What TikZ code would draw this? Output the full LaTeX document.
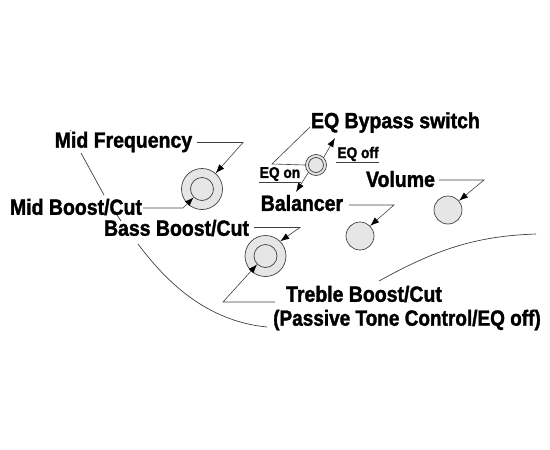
\documentclass[tikz,border=0pt]{standalone}
\usepackage{fontspec}
\setmainfont{Liberation Sans}
\newfontfamily\condbold[FakeStretch=0.885,FakeBold=1.6]{Liberation Sans Bold}
\usetikzlibrary{arrows.meta}
\definecolor{knobfill}{HTML}{E6E6E6}
\definecolor{wire}{HTML}{404040}
\tikzset{
  big/.style={font=\condbold\fontsize{22}{24}\selectfont,inner sep=0pt,text=black},
  small/.style={font=\condbold\fontsize{15.5}{17}\selectfont,inner sep=0pt,text=black},
  knob/.style={circle,draw=wire,line width=0.7pt,fill=knobfill,inner sep=0pt,minimum size=#1},
  inner/.style={circle,draw=wire,line width=0.7pt,fill=knobfill,inner sep=0pt,minimum size=#1},
  leader/.style={draw=wire,line width=0.6pt},
  pointer/.style={leader,-{Latex[length=9pt,width=6.5pt,black]}},
  body/.style={draw=wire,line width=0.7pt}
}
\begin{document}
\begin{tikzpicture}[x=1pt,y=-1pt]
\useasboundingbox (0,0) rectangle (550,450);
% body outline
\draw[body] (70,130) -- (71,131);
\draw[body] (81,153) -- (104,195);
\draw[body] (117,215) -- (121,221);
\draw[body] (138,244) .. controls (165,280) and (205,321) .. (267,327);
\draw[body] (379,281) .. controls (435,250) and (475,236) .. (536,234);
% knobs
\node[knob=41pt] (midO) at (202,189) {};
\node[inner=23pt] (midI) at (202,189) {};
\node[knob=41pt] (bassO) at (265.5,256) {};
\node[inner=23pt] (bassI) at (265.5,256) {};
\node[knob=28pt] (bal) at (360,236) {};
\node[knob=28pt] (vol) at (448,210) {};
\node[knob=21pt] (swO) at (316,165) {};
\node[inner=15pt] (swI) at (316,165) {};
% labels
\node[big] (midF) at (123.5,142) {Mid Frequency};
\node[big] (midB) at (76,207) {Mid Boost/Cut};
\node[big] (bassB) at (176.5,228) {Bass Boost/Cut};
\node[big] (treb) at (364,294) {Treble Boost/Cut};
\node[big,xscale=0.975] (pass) at (407,320) {(Passive Tone Control/EQ off)};
\node[big] (eqb) at (395.5,122.5) {EQ Bypass switch};
\node[big] (volL) at (400.5,179) {Volume};
\node[big] (balL) at (302,203) {Balancer};
\node[small] (eqoff) at (358,154) {EQ off};
\node[small] (eqon) at (280,174) {EQ on};
% bends
\coordinate (b1a) at (197,142.5); \coordinate (b1b) at (243,142.5);
\coordinate (b2a) at (143,208); \coordinate (b2b) at (183,208);
\coordinate (b3a) at (254,227.5); \coordinate (b3b) at (300,227.5);
\coordinate (b4a) at (275,302); \coordinate (b4b) at (223,302);
\coordinate (b5a) at (439,180); \coordinate (b5b) at (484,180);
\coordinate (b6a) at (349,205); \coordinate (b6b) at (394,205);
\coordinate (b7a) at (310,127); \coordinate (b7b) at (272,164);
\coordinate (upT) at (335,138); \coordinate (dnT) at (296,192);
\coordinate (u1a) at (336,162); \coordinate (u1b) at (379,162);
\coordinate (u2a) at (259,182); \coordinate (u2b) at (301,182);
% leaders
\draw[pointer] (b1a) -- (b1b) -- (midO.49);
\draw[pointer] (b2a) -- (b2b) -- (midI.225);
\draw[pointer] (b3a) -- (b3b) -- (bassO.45);
\draw[pointer] (b4a) -- (b4b) -- (bassI.225);
\draw[pointer] (b5a) -- (b5b) -- (vol.40);
\draw[pointer] (b6a) -- (b6b) -- (bal.45);
\draw[leader] (b7a) -- (b7b) -- (swO.180);
\draw[pointer] (swO.45) -- (upT);
\draw[pointer] (swO.225) -- (dnT);
\draw[leader] (u1a) -- (u1b);
\draw[leader] (u2a) -- (u2b);
\end{tikzpicture}
\end{document}
